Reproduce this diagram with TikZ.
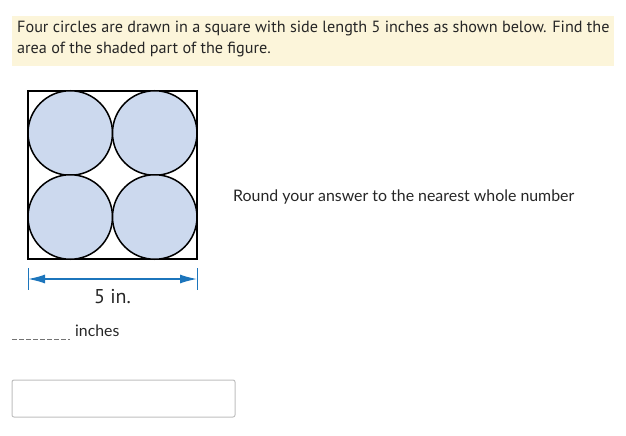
\documentclass[tikz,border=0pt]{standalone}
\usepackage{fontspec}
\setmainfont{Lato}
\newfontfamily\probfont{PT Sans}
\usepackage{xcolor}
\definecolor{bandyellow}{HTML}{FCF5DA}
\definecolor{circblue}{HTML}{CCD9EE}
\definecolor{dimblue}{HTML}{1C75BC}
\usetikzlibrary{arrows.meta}

\begin{document}
\begin{tikzpicture}[x=1pt,y=-1pt,
    disc/.style={circle, draw, line width=1.5pt, fill=circblue, minimum size=84.5pt, inner sep=0pt},
    txt/.style={inner sep=0pt, anchor=west, text=black!85}]
    \useasboundingbox (0,0) rectangle (626,436);
    % question band
    \fill[bandyellow] (12,16) rectangle (614,66);
    \node[txt, font=\probfont\fontsize{16.2}{19}\selectfont] (q1) at (17,28) {Four circles are drawn in a square with side length 5 inches as shown below. Find the};
    \node[txt, font=\probfont\fontsize{16.2}{19}\selectfont] (q2) at (17,49) {area of the shaded part of the figure.};
    % square and circles
    \draw[line width=1.3pt] (28,91) rectangle (197,259);
    \node[disc] (c1) at (70.25,133) {};
    \node[disc] (c2) at (154.75,133) {};
    \node[disc] (c3) at (70.25,217) {};
    \node[disc] (c4) at (154.75,217) {};
    % dimension line
    \coordinate (l) at (28,279);
    \coordinate (r) at (197,279);
    \draw[dimblue, line width=1pt] (28,268) -- (28,290) (197,268) -- (197,290);
    \draw[dimblue, line width=1.4pt, {Latex[length=17pt,width=9pt]}-{Latex[length=17pt,width=9pt]}] (l) -- (r);
    \node[font=\probfont\fontsize{20}{22}\selectfont, text=black!85] (dim) at (112.5,297) {5 in.};
    % answer line
    \draw[black!55, dash pattern=on 5pt off 2pt] (12,339) -- (70,339);
    \node[txt, font=\fontsize{15.8}{18}\selectfont] (unit) at (75,331) {inches};
    \node[txt, font=\fontsize{15.9}{18}\selectfont] (round) at (233,197) {Round your answer to the nearest whole number};
    % input box
    \draw[black!25, line width=1pt, rounded corners=2pt] (12,380) rectangle (235,417);
\end{tikzpicture}
\end{document}
